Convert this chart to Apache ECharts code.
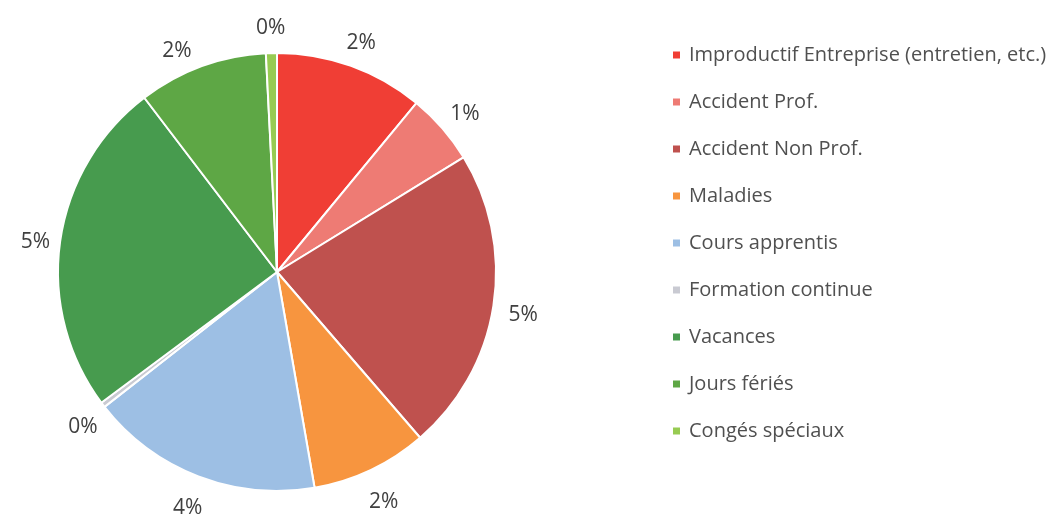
<!DOCTYPE html>
<html>
<head>
<meta charset="utf-8">
<script src="https://cdn.jsdelivr.net/npm/echarts@6/dist/echarts.min.js"></script>
<style>
  html, body { margin: 0; padding: 0; background: #fff; }
  #chart { width: 1054px; height: 515px; }
</style>
</head>
<body>
<div id="chart"></div>
<script>
  // catégories (ordre du diagramme, sens horaire depuis midi)
  var categories = [
    'Improductif Entreprise (entretien, etc.)',
    'Accident Prof.',
    'Accident Non Prof.',
    'Maladies',
    'Cours apprentis',
    'Formation continue',
    'Vacances',
    'Jours fériés',
    'Congés spéciaux'
  ];
  // part en % (étiquette arrondie)
  var values = [2.3, 1.1, 4.7, 1.8, 3.6, 0.08, 5.2, 2.0, 0.17];
  var colors = ['#f03e35', '#ee7b74', '#bf514e', '#f7953f', '#9dbfe4', '#c9cad2', '#479b4e', '#5ea745', '#97cb52'];

  var myChart = echarts.init(document.getElementById('chart'));

  var pieData = [];
  for (var i = 0; i < categories.length; i++) {
    pieData.push({ name: categories[i], value: values[i], itemStyle: { color: colors[i] } });
  }

  var option = {
    backgroundColor: '#ffffff',
    animation: false,
    legend: {
      orient: 'vertical',
      left: 671,
      top: 45,
      padding: 0,
      itemWidth: 9,
      itemHeight: 9,
      itemGap: 27,
      icon: 'rect',
      data: categories,
      textStyle: {
        fontFamily: 'Open Sans',
        fontSize: 20,
        lineHeight: 20,
        color: '#505050',
        padding: [0, 0, 0, 3]
      }
    },
    series: [{
      type: 'pie',
      center: [277, 272],
      radius: 219,
      startAngle: 90,
      clockwise: true,
      data: pieData,
      itemStyle: { borderColor: '#ffffff', borderWidth: 2 },
      label: {
        show: true,
        position: 'outside',
        overflow: 'none',
        fontFamily: 'Open Sans',
        fontSize: 21,
        color: '#404040',
        formatter: function (p) { return Math.round(p.value) + '%'; }
      },
      labelLine: { show: true, length: 30, length2: 0, lineStyle: { width: 0, opacity: 0 } },
      labelLayout: function (params) {
        var pts = params.labelLinePoints;
        if (!pts) return {};
        // texte centré sur le bout du trait invisible, un peu plus bas
        return { x: pts[1][0], y: pts[1][1] + 5, align: 'center', verticalAlign: 'middle' };
      },
      emphasis: { disabled: true }
    }]
  };
  myChart.setOption(option);
</script>
</body>
</html>
